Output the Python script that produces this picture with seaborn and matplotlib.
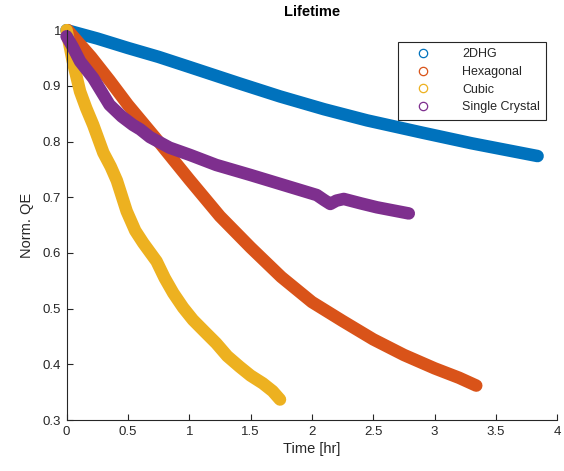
import numpy as np
import pandas as pd
import matplotlib
matplotlib.use("Agg")
import matplotlib.pyplot as plt
from matplotlib.lines import Line2D
import seaborn as sns

# values
t_2dhg = [0.0, 0.25, 0.5, 0.75, 1.0, 1.4, 1.74, 2.1, 2.45, 2.9, 3.3, 3.84]
qe_2dhg = [1.0, 0.985, 0.968, 0.952, 0.934, 0.905, 0.881, 0.858, 0.838, 0.816, 0.797, 0.774]

t_hex = [0.01, 0.1, 0.2, 0.35, 0.5, 0.75, 1.0, 1.25, 1.5, 1.75, 2.0, 2.25, 2.5, 2.75, 3.0, 3.2, 3.34]
qe_hex = [1.0, 0.977, 0.952, 0.91, 0.866, 0.8, 0.732, 0.666, 0.61, 0.557, 0.512, 0.478, 0.445, 0.417, 0.393, 0.376, 0.362]

t_cub = [0.0, 0.05, 0.11, 0.16, 0.217, 0.30, 0.36, 0.41, 0.49, 0.56, 0.625, 0.734, 0.8, 0.87, 0.95, 1.03, 1.12, 1.22, 1.31, 1.41, 1.50, 1.60, 1.68, 1.74]
qe_cub = [1.0, 0.945, 0.89, 0.86, 0.83, 0.78, 0.755, 0.73, 0.675, 0.64, 0.618, 0.585, 0.555, 0.528, 0.502, 0.48, 0.46, 0.438, 0.415, 0.396, 0.38, 0.366, 0.352, 0.337]

t_sc = [0.0, 0.05, 0.11, 0.217, 0.35, 0.45, 0.54, 0.60, 0.68, 0.84, 1.006, 1.22, 1.5, 1.77, 2.04, 2.1, 2.15, 2.2, 2.26, 2.4, 2.53, 2.79]
qe_sc = [0.989, 0.97, 0.944, 0.914, 0.866, 0.845, 0.83, 0.822, 0.808, 0.789, 0.776, 0.758, 0.74, 0.722, 0.704, 0.695, 0.688, 0.694, 0.697, 0.689, 0.682, 0.671]

names = ['2DHG', 'Hexagonal', 'Cubic', 'Single Crystal']
colors = ['#0072BD', '#D95319', '#EDB120', '#7E2F8E']

frames = []
for name, t, q in zip(names, [t_2dhg, t_hex, t_cub, t_sc], [qe_2dhg, qe_hex, qe_cub, qe_sc]):
	frames.append(pd.DataFrame({'Time': t, 'QE': q, 'Sample': name}))
df = pd.concat(frames, ignore_index=True)

sns.set_style('white')
plt.rcParams['font.family'] = ['Liberation Sans', 'DejaVu Sans']

fig = plt.figure(figsize=(5.64, 4.71), dpi=100)
ax = fig.add_axes([0.118, 0.108, 0.870, 0.828])

sns.lineplot(data=df, x='Time', y='QE', hue='Sample', hue_order=names, palette=colors,
	sort=False, estimator=None, linewidth=9, legend=False, ax=ax)
for line in ax.get_lines():
	line.set_solid_capstyle('round')
	line.set_solid_joinstyle('round')
	line.set_clip_on(False)

ax.set_xlim(0, 4)
ax.set_ylim(0.3, 1.0)
ax.set_xticks(np.arange(0, 4.01, 0.5))
ax.set_xticklabels(['0', '0.5', '1', '1.5', '2', '2.5', '3', '3.5', '4'])
ax.set_yticks(np.arange(0.3, 1.001, 0.1))
ax.set_yticklabels(['0.3', '0.4', '0.5', '0.6', '0.7', '0.8', '0.9', '1'])
ax.tick_params(bottom=True, left=True, direction='in', length=4, width=0.8,
	colors='#262626', labelsize=9.5, pad=4)
for s in ['top', 'right']:
	ax.spines[s].set_visible(False)
for s in ['left', 'bottom']:
	ax.spines[s].set_color('#262626')
	ax.spines[s].set_linewidth(0.8)

ax.set_xlabel('Time [hr]', fontsize=10.5, color='#262626', labelpad=3)
ax.set_ylabel('Norm. QE', fontsize=10.5, color='#262626', labelpad=6)
ax.set_title('Lifetime', fontsize=10.5, fontweight='bold', color='black', pad=10)

handles = [Line2D([], [], linestyle='none', marker='o', markersize=6, markerfacecolor='none',
	markeredgecolor=c, markeredgewidth=0.9) for c in colors]
leg = ax.legend(handles, names, loc='upper right', bbox_to_anchor=(0.99, 0.985), fontsize=9,
	frameon=True, fancybox=False, edgecolor='#262626', framealpha=1, borderpad=0.5,
	handletextpad=1.6, labelspacing=0.45, handlelength=3.0)
leg.get_frame().set_linewidth(0.8)

fig.savefig('out.png', dpi=100)
